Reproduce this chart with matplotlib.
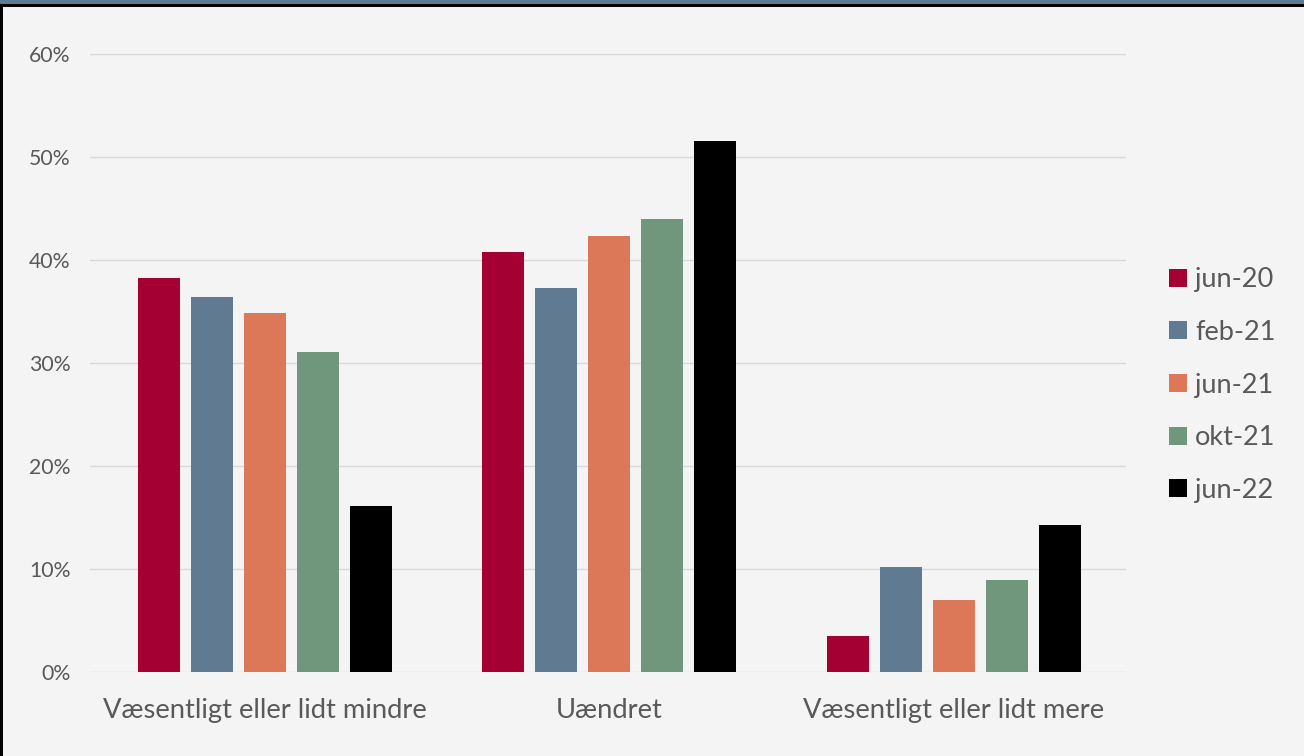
import matplotlib
matplotlib.use("Agg")
import matplotlib.pyplot as plt
import numpy as np
from matplotlib.patches import Rectangle, Patch

categories = ["Væsentligt eller lidt mindre", "Uændret", "Væsentligt eller lidt mere"]
series_names = ["jun-20", "feb-21", "jun-21", "okt-21", "jun-22"]
jun20 = [0.383, 0.408, 0.035]
feb21 = [0.364, 0.373, 0.102]
jun21 = [0.349, 0.423, 0.070]
okt21 = [0.311, 0.440, 0.089]
jun22 = [0.161, 0.516, 0.143]
series_values = [jun20, feb21, jun21, okt21, jun22]
colors = ["#A50034", "#5F7A91", "#DC7857", "#70967C", "#000000"]
yticks = [0, 0.1, 0.2, 0.3, 0.4, 0.5, 0.6]
ytick_labels = ["0%", "10%", "20%", "30%", "40%", "50%", "60%"]

plt.rcParams['font.family'] = ['Lato', 'DejaVu Sans']
text_color = "#595959"
bg = "#F4F4F4"

W, H = 1304, 756
fig = plt.figure(figsize=(W / 100, H / 100), dpi=100)
fig.patch.set_facecolor(bg)

ax = fig.add_axes([90 / W, 1 - 672 / H, (1126 - 90) / W, (672 - 54) / H])
ax.set_facecolor(bg)

x = np.arange(len(categories))
step = 0.154
bw = 0.122
for i, (name, vals, c) in enumerate(zip(series_names, series_values, colors)):
    ax.bar(x + (i - 2) * step, vals, width=bw, color=c, label=name, zorder=3)

ax.set_xlim(-0.509, 2.501)
ax.set_ylim(0, 0.6)
ax.set_yticks(yticks)
ax.set_yticklabels(ytick_labels, fontsize=15.3, color=text_color)
ax.set_xticks(x)
ax.set_xticklabels(categories, fontsize=19.7, color=text_color)
ax.tick_params(axis='y', length=0, pad=14)
ax.tick_params(axis='x', length=0, pad=19)
ax.grid(axis='y', color="#D9D9D9", linewidth=1, zorder=0)
for s in ax.spines.values():
    s.set_visible(False)

handles = [Patch(facecolor=c, edgecolor='none') for c in colors]
leg = fig.legend(handles, series_names, loc='center left',
                 bbox_to_anchor=(1145 / W, 1 - 385 / H), frameon=False,
                 fontsize=19.5, labelcolor=text_color, handlelength=0.65,
                 handleheight=0.65, handletextpad=0.3, labelspacing=1.02)

# top band and frame
fig.add_artist(Rectangle((0, 1 - 4 / H), 1, 4 / H, transform=fig.transFigure,
                         facecolor="#5F7A91", edgecolor='none'))
fig.add_artist(Rectangle((0, 1 - 6.5 / H), 1, 2.5 / H, transform=fig.transFigure,
                         facecolor="#000000", edgecolor='none'))
fig.add_artist(Rectangle((0, 0), 2.5 / W, 1 - 4 / H, transform=fig.transFigure,
                         facecolor="#000000", edgecolor='none'))

fig.savefig("out.png", dpi=100, facecolor=bg)
